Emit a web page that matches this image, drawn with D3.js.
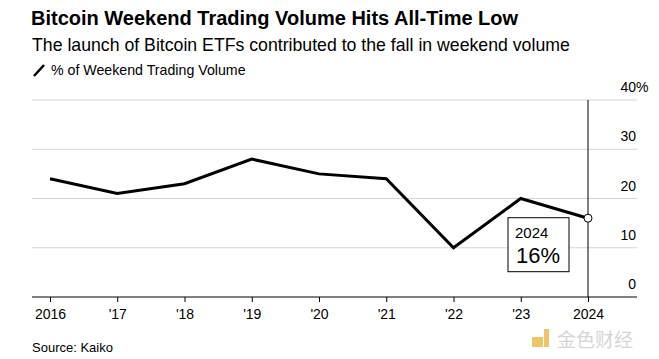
<!DOCTYPE html>
<html><head><meta charset="utf-8">
<script src="https://cdn.jsdelivr.net/npm/d3@7"></script>
<style>
body{margin:0;background:#fff;}
svg{display:block;font-family:"Liberation Sans",Arial,Helvetica,sans-serif;}
</style></head>
<body><svg id="c" width="659" height="359"></svg>
<script>
const years = [2016, 2017, 2018, 2019, 2020, 2021, 2022, 2023, 2024];
const tickLabels = ["2016", "'17", "'18", "'19", "'20", "'21", "'22", "'23", "2024"];
const weekendShare = [24, 21, 23, 28, 25, 24, 10, 20, 16];
const yTicks = [0, 10, 20, 30, 40];

const svg = d3.select("#c");
const x = d3.scaleLinear().domain([2016, 2024]).range([50, 588]);
const y = d3.scaleLinear().domain([0, 40]).range([297, 100]);
const gridL = 32, gridR = 637;

// titles
svg.append("text").attr("x", 31).attr("y", 25).attr("font-size", 20).attr("font-weight", "bold").attr("fill", "#000")
  .text("Bitcoin Weekend Trading Volume Hits All-Time Low");
svg.append("text").attr("x", 32).attr("y", 51).attr("font-size", 17.7).attr("fill", "#000")
  .text("The launch of Bitcoin ETFs contributed to the fall in weekend volume");
svg.append("line").attr("x1", 34).attr("y1", 76).attr("x2", 44).attr("y2", 65).attr("stroke", "#000").attr("stroke-width", 2.6);
svg.append("text").attr("x", 51).attr("y", 75).attr("font-size", 14.2).attr("fill", "#000")
  .text("% of Weekend Trading Volume");

// grid
svg.append("g").selectAll("line").data(yTicks.filter(d => d > 0)).join("line")
  .attr("x1", gridL).attr("x2", gridR).attr("y1", d => y(d)).attr("y2", d => y(d))
  .attr("stroke", "#d4d4d4").attr("stroke-width", 1);

// y labels
const yl = svg.append("g").attr("class", "ylab");
yTicks.forEach(d => {
  const t = yl.append("text").attr("y", y(d) - 8).attr("font-size", 14).attr("fill", "#000");
  if (d === 40) {
    t.attr("x", 636 - 15.6).attr("text-anchor", "start").text(d + "%");
  } else {
    t.attr("x", 636).attr("text-anchor", "end").text(d);
  }
});

// x axis
const xAxis = d3.axisBottom(x).tickValues(years).tickFormat((d, i) => tickLabels[i]).tickSize(5).tickPadding(7);
const gx = svg.append("g").attr("transform", `translate(0,${y(0)})`).call(xAxis);
gx.select(".domain").remove();
gx.selectAll(".tick line").attr("stroke", "#000");
gx.selectAll(".tick text").attr("font-size", 14).attr("fill", "#000").attr("font-family", "Liberation Sans, Arial, sans-serif");
svg.append("line").attr("x1", gridL).attr("x2", gridR).attr("y1", y(0)).attr("y2", y(0)).attr("stroke", "#000").attr("stroke-width", 1);

// vertical marker line at 2024
svg.append("line").attr("x1", x(2024)).attr("x2", x(2024)).attr("y1", y(40)).attr("y2", y(0)).attr("stroke", "#000").attr("stroke-width", 1);

// line
const line = d3.line().x((d, i) => x(years[i])).y(d => y(d));
svg.append("path").datum(weekendShare).attr("d", line).attr("fill", "none")
  .attr("stroke", "#000").attr("stroke-width", 3).attr("stroke-linejoin", "miter");

// end point
const last = weekendShare.length - 1;
svg.append("circle").attr("cx", x(years[last])).attr("cy", y(weekendShare[last])).attr("r", 4)
  .attr("fill", "#fff").attr("stroke", "#000").attr("stroke-width", 1);

// annotation box
const bx = x(years[last]) - 80, by = y(weekendShare[last]) - 0.5;
svg.append("rect").attr("x", bx).attr("y", by).attr("width", 61).attr("height", 54)
  .attr("fill", "#fff").attr("stroke", "#000").attr("stroke-width", 1);
svg.append("text").attr("x", bx + 7).attr("y", by + 20).attr("font-size", 15).attr("fill", "#000").text(years[last]);
svg.append("text").attr("x", bx + 8).attr("y", by + 45).attr("font-size", 22).attr("fill", "#000").text(weekendShare[last] + "%");

// source
svg.append("text").attr("x", 32).attr("y", 352).attr("font-size", 13).attr("fill", "#000").text("Source: Kaiko");

// watermark
const wm = svg.append("g").attr("opacity", 0.75);
wm.append("rect").attr("x", 532).attr("y", 337).attr("width", 11).attr("height", 10).attr("fill", "#e8b23a");
wm.append("rect").attr("x", 544).attr("y", 329).attr("width", 5).attr("height", 18).attr("fill", "#e8b23a");
wm.append("text").attr("x", 557).attr("y", 347).attr("font-size", 19).attr("fill", "#c8c8c8")
  .attr("font-family", "Noto Sans CJK SC").text("金色财经");
</script></body></html>
